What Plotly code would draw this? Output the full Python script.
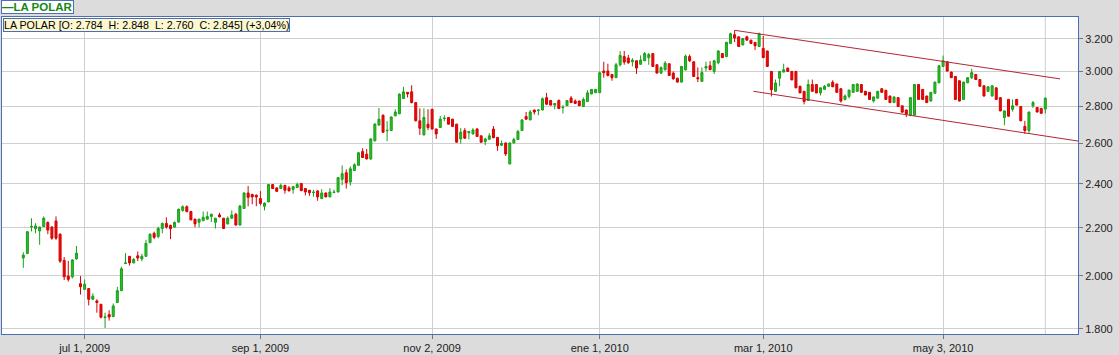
import math
import plotly.graph_objects as go

# ---- data (daily OHLC) ----
opens = [
    2072, 2091, 2203, 2196, 2186, 2205, 2223, 2203, 2230, 2172,
    2062, 1999, 1996, 2068, 1969, 1947, 1950, 1909, 1903, 1890,
    1841, 1852, 1845, 1897, 1942, 2049, 2079, 2052, 2081, 2068,
    2079, 2136, 2176, 2162, 2197, 2219, 2210, 2203, 2225, 2277,
    2294, 2272, 2238, 2224, 2231, 2238, 2250, 2224, 2257, 2242,
    2217, 2242, 2260, 2212, 2286, 2357, 2350, 2347, 2331, 2296,
    2316, 2397, 2381, 2378, 2393, 2381, 2374, 2383, 2402, 2378,
    2370, 2359, 2367, 2331, 2357, 2339, 2359, 2362, 2422, 2454,
    2409, 2465, 2490, 2559, 2546, 2522, 2614, 2697, 2750, 2667,
    2668, 2747, 2758, 2843, 2878, 2881, 2820, 2720, 2645, 2702,
    2783, 2676, 2684, 2732, 2738, 2729, 2702, 2624, 2668, 2656,
    2650, 2676, 2640, 2610, 2622, 2676, 2632, 2591, 2603, 2497,
    2603, 2621, 2668, 2743, 2725, 2779, 2777, 2779, 2848, 2832,
    2806, 2832, 2792, 2803, 2846, 2829, 2829, 2798, 2826, 2869,
    2876, 2876, 3002, 3002, 2982, 2963, 3040, 3090, 3081, 3058,
    3064, 3043, 3064, 3083, 3108, 3040, 2990, 3010, 3046, 2990,
    2960, 2937, 3010, 3090, 3058, 2963, 2941, 3020, 3034, 3000,
    3052, 3108, 3090, 3171, 3227, 3213, 3162, 3213, 3192, 3178,
    3152, 3140, 3124, 3000, 2884, 2960, 2996, 3020, 3000, 3000,
    2913, 2884, 2832, 2923, 2923, 2875, 2895, 2913, 2937, 2926,
    2899, 2838, 2855, 2878, 2884, 2923, 2884, 2878, 2829, 2845,
    2899, 2890, 2857, 2820, 2848, 2802, 2779, 2750, 2750, 2923,
    2895, 2857, 2829, 2873, 2933, 3030, 3058, 2996, 2970, 2945,
    2838, 2933, 2963, 2982, 2952, 2916, 2884, 2857, 2904, 2848,
    2738, 2838, 2783, 2838, 2798, 2690, 2668, 2802, 2793, 2788, 2784,
]
highs = [
    2096, 2185, 2242, 2220, 2205, 2250, 2228, 2207, 2250, 2176,
    2076, 2060, 2068, 2122, 1999, 1985, 1952, 1932, 1909, 1892,
    1859, 1868, 1893, 1957, 2036, 2092, 2080, 2072, 2099, 2089,
    2148, 2176, 2183, 2205, 2223, 2246, 2214, 2228, 2286, 2300,
    2300, 2275, 2240, 2240, 2272, 2272, 2262, 2244, 2266, 2244,
    2250, 2277, 2266, 2302, 2362, 2390, 2354, 2350, 2366, 2314,
    2400, 2400, 2384, 2402, 2396, 2390, 2390, 2406, 2404, 2380,
    2372, 2372, 2370, 2375, 2360, 2380, 2373, 2432, 2490, 2470,
    2485, 2500, 2558, 2576, 2572, 2627, 2708, 2790, 2755, 2718,
    2744, 2783, 2873, 2910, 2880, 2919, 2822, 2788, 2788, 2783,
    2785, 2678, 2747, 2750, 2740, 2731, 2704, 2681, 2681, 2666,
    2681, 2681, 2642, 2630, 2654, 2692, 2634, 2616, 2605, 2605,
    2630, 2672, 2729, 2768, 2779, 2781, 2781, 2849, 2875, 2834,
    2817, 2838, 2806, 2834, 2857, 2838, 2831, 2849, 2890, 2897,
    2897, 3000, 3058, 3046, 2984, 3052, 3124, 3124, 3100, 3080,
    3066, 3097, 3118, 3112, 3110, 3042, 3030, 3062, 3048, 3000,
    2962, 3032, 3102, 3102, 3060, 3024, 3024, 3058, 3062, 3070,
    3130, 3110, 3182, 3240, 3255, 3215, 3204, 3220, 3194, 3180,
    3240, 3218, 3126, 3002, 2952, 3002, 3046, 3022, 3002, 3002,
    2915, 2886, 2952, 2952, 2925, 2906, 2920, 2928, 2948, 2928,
    2901, 2867, 2895, 2926, 2930, 2925, 2886, 2880, 2854, 2886,
    2901, 2892, 2859, 2854, 2850, 2804, 2781, 2850, 2925, 2925,
    2897, 2859, 2880, 2939, 3036, 3096, 3060, 2998, 2972, 2947,
    2939, 2965, 3016, 2984, 2954, 2918, 2912, 2918, 2906, 2850,
    2776, 2840, 2838, 2840, 2800, 2720, 2770, 2829, 2795, 2790, 2848,
]
lows = [
    2032, 2088, 2184, 2176, 2127, 2204, 2172, 2148, 2148, 2052,
    1983, 1977, 1990, 2066, 1927, 1945, 1886, 1907, 1859, 1838,
    1803, 1830, 1842, 1895, 1940, 2048, 2041, 2050, 2059, 2059,
    2076, 2134, 2151, 2155, 2176, 2196, 2151, 2200, 2222, 2272,
    2268, 2233, 2202, 2202, 2229, 2236, 2225, 2197, 2246, 2195,
    2215, 2240, 2210, 2210, 2284, 2296, 2305, 2296, 2300, 2277,
    2314, 2376, 2362, 2376, 2354, 2365, 2354, 2381, 2366, 2346,
    2344, 2340, 2321, 2329, 2337, 2337, 2357, 2360, 2394, 2378,
    2392, 2463, 2488, 2527, 2520, 2517, 2612, 2694, 2656, 2612,
    2666, 2745, 2756, 2841, 2849, 2816, 2718, 2645, 2643, 2670,
    2674, 2624, 2682, 2718, 2700, 2688, 2605, 2600, 2624, 2622,
    2648, 2635, 2605, 2592, 2620, 2628, 2563, 2589, 2537, 2495,
    2601, 2619, 2666, 2725, 2723, 2754, 2750, 2777, 2806, 2804,
    2783, 2785, 2760, 2801, 2818, 2813, 2801, 2796, 2824, 2867,
    2874, 2874, 2963, 2970, 2945, 2961, 3030, 3040, 3046, 3030,
    2985, 3041, 3062, 3040, 3028, 2988, 2985, 3005, 2974, 2950,
    2935, 2935, 3005, 3056, 2968, 2937, 2939, 3000, 3008, 2985,
    3043, 3081, 3085, 3169, 3180, 3150, 3160, 3190, 3169, 3130,
    3150, 3081, 3028, 2855, 2882, 2913, 2994, 2998, 2948, 2902,
    2873, 2810, 2830, 2882, 2873, 2860, 2893, 2911, 2908, 2876,
    2820, 2832, 2843, 2876, 2882, 2876, 2861, 2836, 2820, 2843,
    2876, 2836, 2818, 2818, 2796, 2765, 2740, 2745, 2748, 2836,
    2836, 2818, 2827, 2871, 2931, 3028, 3000, 2961, 2836, 2827,
    2836, 2931, 2955, 2950, 2911, 2855, 2882, 2855, 2836, 2772,
    2696, 2743, 2770, 2804, 2718, 2650, 2650, 2790, 2766, 2758, 2760,
]
closes = [
    2084, 2183, 2206, 2208, 2203, 2242, 2190, 2155, 2155, 2059,
    1996, 1986, 2064, 2092, 1957, 1967, 1909, 1921, 1897, 1842,
    1843, 1843, 1884, 1942, 2028, 2052, 2052, 2066, 2072, 2079,
    2133, 2172, 2159, 2197, 2219, 2203, 2196, 2223, 2282, 2294,
    2272, 2235, 2217, 2238, 2246, 2250, 2260, 2242, 2248, 2197,
    2242, 2256, 2212, 2297, 2357, 2337, 2339, 2339, 2309, 2310,
    2397, 2378, 2365, 2393, 2370, 2367, 2387, 2397, 2368, 2362,
    2358, 2361, 2339, 2357, 2339, 2362, 2361, 2430, 2449, 2406,
    2473, 2493, 2553, 2529, 2522, 2624, 2702, 2729, 2659, 2669,
    2741, 2768, 2867, 2881, 2869, 2820, 2720, 2680, 2738, 2684,
    2676, 2650, 2729, 2734, 2702, 2690, 2607, 2659, 2628, 2663,
    2671, 2637, 2607, 2624, 2640, 2630, 2589, 2600, 2547, 2603,
    2621, 2663, 2725, 2729, 2768, 2768, 2779, 2842, 2811, 2806,
    2815, 2787, 2794, 2832, 2820, 2815, 2803, 2838, 2875, 2895,
    2895, 2992, 2992, 2976, 2963, 3040, 3097, 3056, 3052, 3068,
    3020, 3068, 3108, 3102, 3030, 2990, 3023, 3050, 2976, 2957,
    2937, 3030, 3092, 3064, 2970, 2957, 2993, 3030, 3010, 3064,
    3124, 3083, 3178, 3233, 3206, 3152, 3202, 3192, 3171, 3157,
    3233, 3083, 3030, 2893, 2932, 3000, 3010, 3000, 2950, 2904,
    2875, 2826, 2923, 2884, 2875, 2904, 2913, 2926, 2910, 2878,
    2829, 2857, 2890, 2923, 2926, 2878, 2863, 2838, 2852, 2884,
    2878, 2838, 2820, 2852, 2798, 2767, 2757, 2848, 2923, 2838,
    2838, 2820, 2878, 2937, 3034, 3064, 3002, 2963, 2838, 2829,
    2937, 2963, 2993, 2952, 2913, 2857, 2910, 2916, 2838, 2774,
    2774, 2745, 2802, 2806, 2720, 2668, 2768, 2820, 2768, 2761, 2845,
]

# x-axis labels (trading-day positions of the first session of the month)
tick_positions = [15, 58, 100, 141, 181, 225]
tick_labels = ["jul 1, 2009", "sep 1, 2009", "nov 2, 2009",
               "ene 1, 2010", "mar 1, 2010", "may 3, 2010"]

price_ticks = [1800, 2000, 2200, 2400, 2600, 2800, 3000, 3200]
price_labels = ["1.800", "2.000", "2.200", "2.400", "2.600", "2.800", "3.000", "3.200"]

# channel trendlines (trading-day index, price)
upper_line_x = [174, 253.6]
upper_line_y = [3255, 2956]
lower_line_x = [178.6, 258.0]
lower_line_y = [2884, 2613]

series_name = "LA POLAR"

# ---- figure ----
idx = list(range(len(closes)))

BLUE = "#4a6fb5"
GRID = "#cfcfcf"
FONT = "Liberation Sans, Arial, sans-serif"

fig = go.Figure()
fig.add_trace(go.Candlestick(
    x=idx, open=opens, high=highs, low=lows, close=closes,
    increasing=dict(line=dict(color="#18a018", width=1), fillcolor="#2dbb2d"),
    decreasing=dict(line=dict(color="#d80000", width=1), fillcolor="#e40c0c"),
    whiskerwidth=0, showlegend=False, hoverinfo="skip",
))
for lx, ly in ((upper_line_x, upper_line_y), (lower_line_x, lower_line_y)):
    fig.add_trace(go.Scatter(x=lx, y=ly, mode="lines",
                             line=dict(color="#b4243a", width=1),
                             showlegend=False, hoverinfo="skip"))

# cursor line on the last session
fig.add_shape(type="line", xref="x", yref="paper", x0=idx[-1], x1=idx[-1],
              y0=0, y1=1, line=dict(color=GRID, width=1), layer="below")

o, h, l, c = opens[-1], highs[-1], lows[-1], closes[-1]
chg = (c / closes[-2] - 1) * 100


def fmt(v):
    return f"{v:,.0f}".replace(",", ".")


nb = "\u00a0"
chg_txt = f"{chg:+.2f}".replace(".", ",")
info = (f"{series_name} [O: {fmt(o)}{nb}{nb}H: {fmt(h)}{nb}{nb}L: {fmt(l)}"
        f"{nb}{nb}C: {fmt(c)}] ({chg_txt}%)")

fig.add_annotation(xref="paper", yref="paper", x=0.0012, y=0.997,
                   xanchor="left", yanchor="top", text=info, showarrow=False,
                   font=dict(family=FONT, size=10.7, color="#000000"),
                   bgcolor="#fdf7cf", bordercolor=BLUE, borderwidth=1, borderpad=0)
fig.add_annotation(xref="paper", yref="paper", x=-0.001, y=1 + 17 / 320,
                   xanchor="left", yanchor="top",
                   text=f"<b>\u2014{series_name}</b>", showarrow=False,
                   font=dict(family=FONT, size=11.5, color="#138a13"),
                   bgcolor="#ffffff", bordercolor=BLUE, borderwidth=1, borderpad=0)

fig.update_layout(
    width=1119, height=355,
    margin=dict(l=1, r=41, t=17, b=18),
    paper_bgcolor="#dcdcdc", plot_bgcolor="#ffffff",
    font=dict(family=FONT, size=11, color="#222222"),
    showlegend=False,
    xaxis=dict(range=[-5.21, 258.0], tickvals=tick_positions, ticktext=tick_labels,
               showgrid=True, gridcolor=GRID, gridwidth=1, zeroline=False,
               ticks="outside", ticklen=4, tickcolor="#777777",
               showline=True, linecolor=BLUE, linewidth=1, mirror=True,
               rangeslider=dict(visible=False), fixedrange=True,
               tickfont=dict(size=11, color="#222222")),
    yaxis=dict(type="log", side="right",
               range=[math.log10(1782), math.log10(3342)],
               tickvals=price_ticks, ticktext=price_labels,
               showgrid=True, gridcolor=GRID, gridwidth=1, zeroline=False,
               ticks="outside", ticklen=4, tickcolor="#777777",
               showline=True, linecolor=BLUE, linewidth=1, mirror=True,
               fixedrange=True, tickfont=dict(size=11, color="#222222")),
)

fig.write_html("out.html")
